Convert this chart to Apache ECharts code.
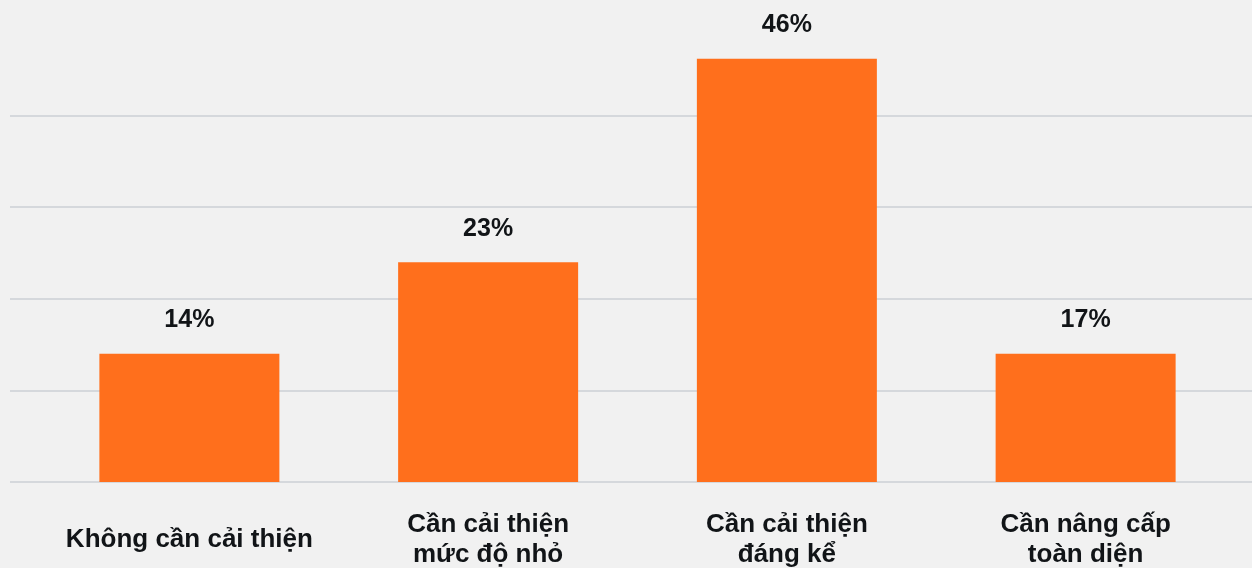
<!DOCTYPE html>
<html>
<head>
<meta charset="utf-8">
<script src="https://cdn.jsdelivr.net/npm/echarts@6/dist/echarts.min.js"></script>
<style>
  html, body { margin: 0; padding: 0; background: #f1f1f1; }
  #chart { width: 1252px; height: 568px; }
</style>
</head>
<body>
<div id="chart"></div>
<script>
const categories = ['Không cần cải thiện', 'Cần cải thiện\nmức độ nhỏ', 'Cần cải thiện\nđáng kể', 'Cần nâng cấp\ntoàn diện']
// bar heights as drawn (%)
const values = [14, 24, 46.2, 14]
// value labels as printed above bars
const valueLabels = ['14%', '23%', '46%', '17%']
const yTicks = [0, 10, 20, 30, 40, 50]

const fontFamily = 'Liberation Sans, Arial, sans-serif'
const textColor = '#111417'

let chart = echarts.init(document.getElementById('chart'))
chart.setOption({
  backgroundColor: '#f1f1f1',
  animation: false,
  grid: [
    // gridlines span nearly the full width
    { left: 10, right: 0, top: 24, bottom: 86, outerBoundsMode: 'none', containLabel: false },
    // bars sit in a narrower band
    { left: 40, right: 17, top: 24, bottom: 86, outerBoundsMode: 'none', containLabel: false }
  ],
  xAxis: [
    { gridIndex: 0, type: 'value', show: false },
    {
      gridIndex: 1,
      type: 'category',
      data: categories,
      axisLine: { show: false },
      axisTick: { show: false },
      axisLabel: {
        interval: 0,
        margin: 58,
        verticalAlign: 'middle',
        fontFamily: fontFamily,
        fontSize: 26,
        fontWeight: 'bold',
        lineHeight: 30,
        color: textColor
      }
    }
  ],
  yAxis: [
    {
      gridIndex: 0,
      type: 'value',
      min: yTicks[0],
      max: yTicks[yTicks.length - 1],
      interval: 10,
      axisLine: { show: false },
      axisTick: { show: false },
      axisLabel: { show: false },
      splitLine: { showMaxLine: false, lineStyle: { color: '#d5d8dc', width: 2 } }
    },
    {
      gridIndex: 1,
      type: 'value',
      min: yTicks[0],
      max: yTicks[yTicks.length - 1],
      show: false,
      splitLine: { show: false }
    }
  ],
  series: [
    {
      type: 'bar',
      xAxisIndex: 1,
      yAxisIndex: 1,
      data: values,
      barWidth: 180,
      itemStyle: { color: '#ff6f1c' },
      label: {
        show: true,
        position: 'top',
        distance: 21,
        fontFamily: fontFamily,
        fontSize: 25,
        fontWeight: 'bold',
        color: textColor,
        formatter: p => valueLabels[p.dataIndex]
      }
    }
  ]
})
</script>
</body>
</html>
